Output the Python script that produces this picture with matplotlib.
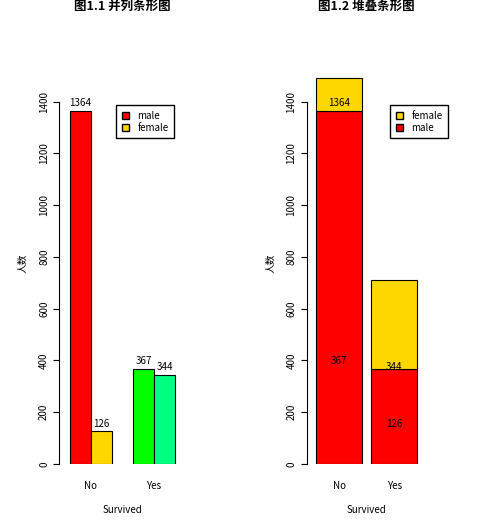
import matplotlib
matplotlib.use("Agg")
import matplotlib.pyplot as plt
from matplotlib.patches import Patch

plt.rcParams['font.family'] = ['Noto Sans CJK SC', 'DejaVu Sans']

groups = ["No", "Yes"]
male = [1364, 367]
female = [126, 344]
grouped_colors = ["red", "gold", "#00FF00", "#00FF80"]
W, H = 489, 532

fig = plt.figure(figsize=(W / 100, H / 100), dpi=100)

def make_ax(x0, x1):
    ax = fig.add_axes([x0 / W, (H - 464) / H, (x1 - x0) / W, 401 / H])
    ax.set_ylim(0, 1490 * 1.04)
    for s in ["top", "right", "bottom"]:
        ax.spines[s].set_visible(False)
    ax.spines["left"].set_bounds(0, 1400)
    ax.spines["left"].set_linewidth(0.8)
    ax.set_yticks(range(0, 1401, 200))
    ax.tick_params(axis="y", labelsize=7, rotation=90, length=4, width=0.8)
    ax.tick_params(axis="x", length=0, labelsize=7, pad=12)
    for t in ax.get_yticklabels():
        t.set_va("center")
    ax.set_xlabel("Survived", fontsize=7, labelpad=10)
    ax.set_ylabel("人数", fontsize=7, labelpad=8)
    return ax

# 図1.1 grouped
ax1 = make_ax(59.5, 185.5)
ax1.set_xlim(0.5, 6.5)
vals = [male[0], female[0], male[1], female[1]]
xs = [1.5, 2.5, 4.5, 5.5]
ax1.bar(xs, vals, width=1, color=grouped_colors, edgecolor="black", linewidth=0.8)
for x, v in zip(xs, vals):
    ax1.text(x, v + 30, str(v), ha="center", va="center", fontsize=7)
ax1.set_xticks([2, 5])
ax1.set_xticklabels(groups)
ax1.set_title("图1.1 并列条形图", fontsize=9, fontweight="bold", pad=38)
ax1.legend(handles=[Patch(fc="red", ec="black", label="male"),
                    Patch(fc="gold", ec="black", label="female")],
           loc="upper left", bbox_to_anchor=((111 - 59.5) / 126, (464 - 100) / 401),
           fontsize=7, fancybox=False, edgecolor="black", framealpha=1,
           handlelength=0.8, handleheight=0.8, borderpad=0.6, labelspacing=0.2)

# 図1.2 stacked
ax2 = make_ax(306.8, 426.4)
ax2.set_xlim(0, 2.6)
xs2 = [0.7, 1.9]
ax2.bar(xs2, male, width=1, color="red", edgecolor="black", linewidth=0.8)
ax2.bar(xs2, female, width=1, bottom=male, color="gold", edgecolor="black", linewidth=0.8)
lab_x = [0.7, 0.7, 1.9, 1.9]
lab_v = [male[0], male[1], female[1], female[0]]
for x, v in zip(lab_x, lab_v):
    ax2.text(x, v + 30, str(v), ha="center", va="center", fontsize=7)
ax2.set_xticks(xs2)
ax2.set_xticklabels(groups)
ax2.set_title("图1.2 堆叠条形图", fontsize=9, fontweight="bold", pad=38)
ax2.legend(handles=[Patch(fc="gold", ec="black", label="female"),
                    Patch(fc="red", ec="black", label="male")],
           loc="upper left", bbox_to_anchor=((385 - 306.8) / 119.6, (464 - 100) / 401),
           fontsize=7, fancybox=False, edgecolor="black", framealpha=1,
           handlelength=0.8, handleheight=0.8, borderpad=0.6, labelspacing=0.2)

fig.savefig("out.png", dpi=100, facecolor="white")
